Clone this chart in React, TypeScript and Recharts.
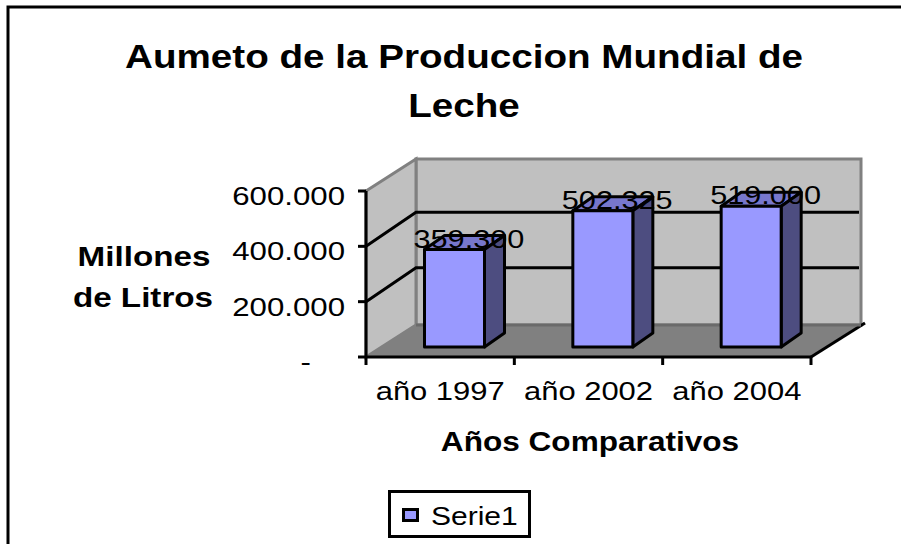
import React from 'react';
import { BarChart, Bar, XAxis, YAxis, Legend, LabelList } from 'recharts';

const categories = ['año 1997', 'año 2002', 'año 2004'];
const produccion = [359300, 502325, 519000];
const yTicks = [0, 200000, 400000, 600000];
const titleLines = ['Aumeto de la Produccion Mundial de', 'Leche'];
const yTitleLines = ['Millones', 'de Litros'];
const xTitle = 'Años Comparativos';
const seriesName = 'Serie1';

const data = categories.map((name, i) => ({ name, value: produccion[i] }));

const W = 901;
const H = 544;
const FONT = '"Liberation Sans", Arial, sans-serif';

// front edge of the 3D box
const plot = { left: 366, top: 191, width: 445, height: 166 };
const depth = { x: 50, y: 32 };
// bars sit part way into the box
const barShift = { x: 14.5, y: 10 };
const barDepth = { x: 20, y: 14 };
// Excel's 3D view draws the columns slightly shorter than the axis scale
const VIEW_SHRINK = 0.98;

const fmt = (v: number) => (v === 0 ? '-' : String(v).replace(/\B(?=(\d{3})+$)/g, '.'));

// the source image is stretched sideways, so the text is too
function Wide({ x, y, size = 26, bold = false, anchor = 'middle', stretch = 1.18, children }: any) {
  return (
    <text
      transform={`translate(${x} ${y}) scale(${stretch} 1)`}
      textAnchor={anchor}
      fontFamily={FONT}
      fontSize={size}
      fontWeight={bold ? 700 : 400}
      fill="#000"
    >
      {children}
    </text>
  );
}

function Box() {
  const l = plot.left;
  const r = plot.left + plot.width;
  const t = plot.top;
  const b = plot.top + plot.height;
  const band = plot.width / categories.length;
  const yOf = (v: number) => b - (v / 600000) * plot.height;
  return (
    <g>
      <rect x={l + depth.x} y={t - depth.y} width={plot.width} height={plot.height} fill="#C0C0C0" stroke="#808080" strokeWidth={3} />
      <polygon
        points={`${l},${t} ${l + depth.x},${t - depth.y} ${l + depth.x},${b - depth.y} ${l},${b}`}
        fill="#C0C0C0"
        stroke="#808080"
        strokeWidth={3}
      />
      <polygon points={`${l},${b} ${r},${b} ${r + depth.x + 3},${b - depth.y - 1} ${l + depth.x},${b - depth.y - 1}`} fill="#808080" />
      <line x1={r} y1={b} x2={r + depth.x + 4} y2={b - depth.y - 2} stroke="#000" strokeWidth={3} />
      <line x1={l + depth.x} y1={b - depth.y} x2={r + depth.x} y2={b - depth.y} stroke="#6a6a6a" strokeWidth={3} />
      {[200000, 400000].map((v) => (
        <polyline
          key={v}
          points={`${l},${yOf(v)} ${l + depth.x},${yOf(v) - depth.y - 2} ${r + depth.x - 2},${yOf(v) - depth.y - 2}`}
          fill="none"
          stroke="#000"
          strokeWidth={3}
        />
      ))}
      {categories.map((_, i) => (
        <line key={i} x1={l + band * (i + 1)} y1={b} x2={l + band * (i + 1)} y2={b + 8} stroke="#000" strokeWidth={3} />
      ))}
      <line x1={l} y1={b} x2={l} y2={b + 8} stroke="#000" strokeWidth={3} />
    </g>
  );
}

function Bar3D({ x, y, width, height, fill }: any) {
  const fx = x + barShift.x;
  const bottom = y + height - barShift.y;
  const h = height * VIEW_SHRINK;
  const top = bottom - h;
  const right = fx + width;
  const dx = barDepth.x;
  const dy = barDepth.y;
  const common = { stroke: '#000', strokeWidth: 3, strokeLinejoin: 'round' as const };
  return (
    <g>
      <polygon points={`${fx},${top} ${fx + dx},${top - dy} ${right + dx},${top - dy} ${right},${top}`} fill="#7777CC" {...common} />
      <polygon points={`${right},${top} ${right + dx},${top - dy} ${right + dx},${bottom - dy} ${right},${bottom}`} fill="#4D4D80" {...common} />
      <rect x={fx} y={top} width={width} height={h} fill={fill} {...common} />
    </g>
  );
}

function ValueLabel({ x, y, width, height, value }: any) {
  const top = y + height - barShift.y - height * VIEW_SHRINK;
  return (
    <Wide x={x + barShift.x + width * 0.74} y={top - 2}>
      {fmt(value)}
    </Wide>
  );
}

function YTick({ x, y, payload }: any) {
  if (payload.value === 0) {
    return <Wide x={x - 34} y={y + 14} anchor="end" stretch={1.2}>-</Wide>;
  }
  return <Wide x={x} y={y + 14} anchor="end" stretch={1.2}>{fmt(payload.value)}</Wide>;
}

function XTick({ x, y, payload }: any) {
  return <Wide x={x} y={y + 35} stretch={1.19}>{payload.value}</Wide>;
}

function LegendBox({ payload }: any) {
  const item = payload?.[0];
  return (
    <div
      style={{
        position: 'relative',
        width: 143,
        height: 48,
        boxSizing: 'border-box',
        border: '3px solid #000',
        background: '#fff',
      }}
    >
      <div
        style={{
          position: 'absolute',
          left: 11,
          top: 15,
          width: 17,
          height: 14,
          boxSizing: 'border-box',
          border: '3px solid #000',
          background: item?.color,
        }}
      />
      <svg width={137} height={42} style={{ position: 'absolute', left: 0, top: 0 }}>
        <Wide x={40} y={32} anchor="start" size={25} stretch={1.2}>{item?.value}</Wide>
      </svg>
    </div>
  );
}

export default function App() {
  return (
    <div style={{ position: 'absolute', left: 0, top: 0, width: W, height: H, background: '#fff' }}>
      <BarChart
        width={W}
        height={H}
        data={data}
        barSize={60}
        margin={{ top: plot.top, left: plot.left - 100, right: W - plot.left - plot.width, bottom: H - plot.top - plot.height - 40 }}
      >
        {/* the frame runs off the right and bottom of the picture */}
        <rect x={8} y={7} width={W + 20} height={H + 20} fill="#fff" stroke="#000" strokeWidth={3} />
        <Box />
        <XAxis dataKey="name" height={40} tick={<XTick />} tickLine={false} axisLine={{ stroke: '#000', strokeWidth: 3 }} interval={0} />
        <YAxis
          width={100}
          domain={[0, 600000]}
          ticks={yTicks}
          tick={<YTick />}
          tickLine={{ stroke: '#000', strokeWidth: 3 }}
          tickSize={8}
          tickMargin={13}
          axisLine={{ stroke: '#000', strokeWidth: 3 }}
        />
        <Legend
          layout="vertical"
          align="center"
          verticalAlign="middle"
          content={<LegendBox />}
          wrapperStyle={{ position: 'absolute', left: 388, top: 490, width: 143, height: 48, margin: 0 }}
        />
        <Bar dataKey="value" name={seriesName} fill="#9999FF" shape={<Bar3D />} isAnimationActive={false}>
          <LabelList dataKey="value" content={<ValueLabel />} />
        </Bar>
        <Wide x={464} y={68} size={34} bold stretch={1.136}>{titleLines[0]}</Wide>
        <Wide x={464} y={117} size={34} bold stretch={1.136}>{titleLines[1]}</Wide>
        <Wide x={144} y={266} size={27} bold stretch={1.23}>{yTitleLines[0]}</Wide>
        <Wide x={143} y={307} size={27} bold stretch={1.23}>{yTitleLines[1]}</Wide>
        <Wide x={590} y={451} size={27} bold stretch={1.17}>{xTitle}</Wide>
      </BarChart>
    </div>
  );
}
